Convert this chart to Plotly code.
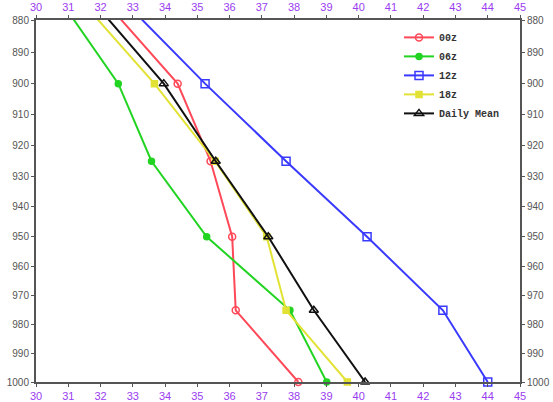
import math
import plotly.graph_objects as go

levels = [850, 900, 925, 950, 975, 1000]
t00 = [29.96, 34.39, 35.41, 36.08, 36.19, 38.13]
t06 = [29.06, 32.55, 33.58, 35.29, 37.87, 39.01]
t12 = [30.30, 35.24, 37.75, 40.26, 42.61, 44.00]
t18 = [29.24, 33.67, 35.55, 37.15, 37.75, 39.65]
tmean = [29.64, 33.96, 35.57, 37.20, 38.61, 40.20]

names = ["00z", "06z", "12z", "18z", "Daily Mean"]
series = [t00, t06, t12, t18, tmean]
colors = ["#ff4858", "#22d422", "#3a3aff", "#e2e235", "#111111"]
symbols = ["circle-open", "circle", "square-open", "square", "triangle-up-open"]
msizes = [7, 6, 8, 6, 8]

x_ticks = list(range(30, 46))
y_ticks = list(range(880, 1001, 10))

fig = go.Figure()
for n, s, c, sym, ms in zip(names, series, colors, symbols, msizes):
    fig.add_trace(go.Scatter(
        x=s, y=levels, name=n, mode="lines+markers",
        line=dict(color=c, width=2),
        marker=dict(symbol=sym, size=ms, color=c, line=dict(color=c, width=1.5)),
        cliponaxis=False,
    ))

# invisible trace to carry the top/right axes
fig.add_trace(go.Scatter(x=tmean, y=levels, xaxis="x2", yaxis="y2",
                         mode="lines", line=dict(width=0), opacity=0,
                         showlegend=False, hoverinfo="skip"))

yr = [math.log10(1000), math.log10(880)]

axis_common = dict(showline=True, linecolor="#555555", linewidth=2,
                   showgrid=False, zeroline=False, ticks="outside",
                   ticklen=3, tickcolor="#555555", automargin=False)

xfont = dict(color="#9a3cf0", size=11, family="Liberation Sans")
yfont = dict(color="#555555", size=10, family="Liberation Sans")

fig.update_layout(
    width=553, height=402,
    margin=dict(l=36, r=33, t=20, b=20),
    plot_bgcolor="white", paper_bgcolor="white",
    xaxis=dict(range=[30, 45], tickvals=x_ticks, side="bottom", tickfont=xfont, **axis_common),
    xaxis2=dict(range=[30, 45], tickvals=x_ticks, side="top", overlaying="x",
                anchor="y", tickfont=xfont, **axis_common),
    yaxis=dict(type="log", range=yr, tickvals=y_ticks, ticktext=[str(v) for v in y_ticks],
               side="left", tickfont=yfont, **axis_common),
    yaxis2=dict(type="log", range=yr, tickvals=y_ticks, ticktext=[str(v) for v in y_ticks],
                side="right", overlaying="y", anchor="x", tickfont=yfont, **axis_common),
    legend=dict(x=0.75, y=0.992, xanchor="left", yanchor="top",
                bgcolor="rgba(0,0,0,0)",
                font=dict(family="Liberation Mono", size=10, color="#333333", weight="bold"),
                tracegroupgap=0, itemwidth=30),
    showlegend=True,
)

fig.write_html("out.html")
